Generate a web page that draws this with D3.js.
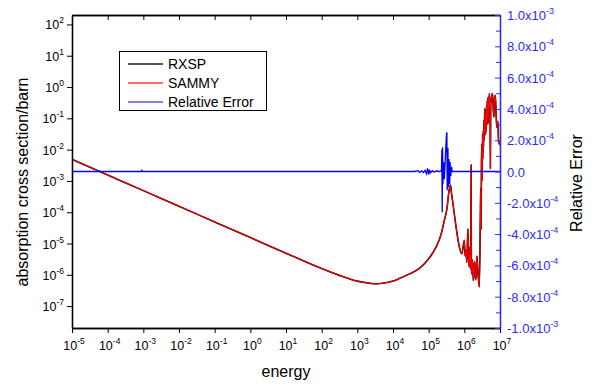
<!DOCTYPE html>
<html>
<head>
<meta charset="utf-8">
<script src="https://d3js.org/d3.v7.min.js"></script>
<style>
  body { margin: 0; background: #fff; }
  svg { font-family: "Liberation Sans", Arial, sans-serif; }
</style>
</head>
<body>
<div id="chart"></div>
<script>
// cross section (RXSP and SAMMY overlap)
const energy = [1e-5, 1e-4, 1e-3, 1e-2, 1e-1, 1, 10, 100, 316, 1e3, 2e3, 3.2e3, 5e3, 1e4, 1.5e4, 2.9e4, 5.5e4,
  1.05e5, 1.62e5, 2.24e5, 2.75e5, 3.3e5, 3.63e5, 4.07e5, 4.37e5, 4.79e5, 5.89e5, 7.24e5, 8.5e5,
  1.0e6, 1.05e6, 1.12e6, 1.17e6, 1.26e6, 1.32e6, 1.38e6, 1.45e6, 1.51e6, 1.55e6, 1.57e6, 1.62e6,
  1.7e6, 1.78e6, 1.86e6, 1.95e6, 2.04e6, 2.14e6, 2.24e6, 2.34e6, 2.45e6, 2.63e6, 2.82e6, 2.88e6,
  2.95e6, 3.02e6, 3.09e6, 3.16e6, 3.24e6, 3.31e6, 3.39e6, 3.47e6, 3.55e6, 3.63e6, 3.72e6, 3.8e6,
  3.9e6, 4.07e6, 4.17e6, 4.27e6, 4.37e6, 4.47e6, 4.57e6, 4.68e6, 4.79e6, 4.9e6, 5.01e6, 5.25e6,
  5.37e6, 5.5e6, 5.75e6, 5.9e6, 6.17e6, 6.46e6, 6.76e6, 7.08e6, 7.41e6, 7.76e6, 8.13e6, 8.7e6,
  9.12e6, 1e7];
const sigma = [4.9e-3, 1.55e-3, 4.9e-4, 1.55e-4, 4.9e-5, 1.55e-5, 4.9e-6, 1.58e-6, 9.6e-7, 6.3e-7, 5.5e-7, 5.2e-7, 5.4e-7, 6.3e-7, 7.6e-7, 1.07e-6, 1.6e-6,
  3.5e-6, 7.8e-6, 2.0e-5, 5.5e-5, 1.45e-4, 3.9e-4, 7.5e-4, 4e-4, 1.9e-4, 3.3e-5, 7.8e-6, 4.7e-6,
  1.26e-5, 4e-6, 6e-6, 2.5e-6, 2.95e-5, 3e-6, 1.78e-6, 8e-6, 1.5e-6, 3.2e-3, 2e-6, 1.07e-6,
  3e-6, 6.6e-7, 1.5e-6, 2.6e-6, 7e-7, 8.5e-7, 4e-6, 2.2e-6, 9e-7, 4.1e-7, 8.9e-5, 6e-4,
  3e-5, 3.5e-3, 1.5e-2, 1e-3, 3.2e-2, 5e-3, 4e-2, 1.2e-2, 0.09, 0.02, 0.2, 0.14,
  0.03, 5.2e-2, 0.25, 0.06, 0.37, 0.1, 0.45, 6.8e-2, 0.5, 0.2, 0.62, 0.3,
  2.5e-3, 0.3, 0.37, 0.55, 0.62, 0.2, 0.11, 0.45, 0.54, 0.15, 5.2e-2, 0.08,
  1.95e-2, 1.4e-2];

// relative error
const errEnergy = [1e-5, 8.7e-4, 9.1e-4, 9.5e-4, 4e4, 5e4, 5.6e4, 6.3e4, 7.1e4, 7.9e4, 8.7e4, 9.3e4, 1e5, 1.05e5,
  1.12e5, 1.26e5, 1.41e5, 1.58e5, 2e5, 2.29e5, 2.34e5, 2.4e5, 2.45e5, 2.51e5, 2.63e5, 2.75e5, 2.95e5,
  3.16e5, 3.24e5, 3.31e5, 3.47e5, 3.55e5, 3.72e5, 3.89e5, 3.98e5, 4.17e5, 4.37e5, 4.57e5, 1e7];
const relError = [0, 0, 8e-6, 0, 0, 5e-6, -5e-6, 4e-6, -6e-6, 8e-6, -1.5e-5, 2e-5, -2e-5, 1.2e-5,
  -8e-6, 5e-6, -5e-6, 3e-6, 0, 5e-6, 1.4e-4, -2.6e-4, 1.55e-4, -8e-5, 6e-5, -5e-5, 1e-4,
  2.4e-4, 2.5e-4, -1.2e-4, 1.5e-4, -1e-4, 8e-5, -8e-5, 6e-5, -3e-5, 3e-5, 0, 0];

const leftTicks = [1e-7, 1e-6, 1e-5, 1e-4, 1e-3, 1e-2, 1e-1, 1, 10, 100];
const leftExps = ["-7", "-6", "-5", "-4", "-3", "-2", "-1", "0", "1", "2"];
const bottomTicks = [1e-5, 1e-4, 1e-3, 1e-2, 1e-1, 1, 10, 100, 1e3, 1e4, 1e5, 1e6, 1e7];
const bottomExps = ["-5", "-4", "-3", "-2", "-1", "0", "1", "2", "3", "4", "5", "6", "7"];
const rightTicks = [1e-3, 8e-4, 6e-4, 4e-4, 2e-4, 0, -2e-4, -4e-4, -6e-4, -8e-4, -1e-3];
const rightMant = ["1.0", "8.0", "6.0", "4.0", "2.0", "0.0", "-2.0", "-4.0", "-6.0", "-8.0", "-1.0"];
const rightExps = ["-3", "-4", "-4", "-4", "-4", "", "-4", "-4", "-4", "-4", "-3"];

const width = 597, height = 387;
const pLeft = 72, pRight = 500, pTop = 15, pBottom = 328;
const blue = "#2b2bff";

const svg = d3.select("#chart").append("svg")
  .attr("width", width).attr("height", height);

const x = d3.scaleLog().domain([1e-5, 1e7]).range([pLeft, pRight]);
const y = d3.scaleLog().domain([2e-8, 200]).range([pBottom, pTop]);
const yR = d3.scaleLinear().domain([-1e-3, 1e-3]).range([pBottom, pTop]);

const isDecade = (v) => Math.abs(Math.log10(v) - Math.round(Math.log10(v))) < 1e-6;
const xMinor = x.ticks().filter(v => !isDecade(v));
const yMinor = y.ticks().filter(v => !isDecade(v));
const rMinor = d3.range(-9, 10, 2).map(v => v * 1e-4);

svg.append("defs").append("clipPath").attr("id", "clip")
  .append("rect").attr("x", pLeft).attr("y", pTop)
  .attr("width", pRight - pLeft).attr("height", pBottom - pTop);

const crossData = energy.map((e, i) => ({ e: e, s: sigma[i] }));
const errData = errEnergy.map((e, i) => ({ e: e, r: relError[i] }));

const plot = svg.append("g").attr("clip-path", "url(#clip)");

const sLine = d3.line().x(d => x(d.e)).y(d => y(d.s)).curve(d3.curveMonotoneX);
const rLine = d3.line().x(d => x(d.e)).y(d => yR(d.r));

plot.append("path").datum(crossData).attr("d", sLine)
  .attr("fill", "none").attr("stroke", "#000").attr("stroke-width", 1.6);
plot.append("path").datum(crossData).attr("d", sLine)
  .attr("fill", "none").attr("stroke", "#f00").attr("stroke-width", 1.1);
plot.append("path").datum(errData).attr("d", rLine)
  .attr("fill", "none").attr("stroke", "#00f").attr("stroke-width", 1.3);

// axes
const styleAxis = (g, color) => {
  g.select(".domain").attr("stroke", color).attr("stroke-width", 1.3);
  g.selectAll(".tick line").attr("stroke", color);
  g.selectAll(".tick text").remove();
};

svg.append("g").attr("transform", `translate(0,${pBottom})`)
  .call(d3.axisBottom(x).tickValues(bottomTicks).tickSize(5).tickSizeOuter(0))
  .call(g => styleAxis(g, "#000"));
svg.append("g").attr("transform", `translate(0,${pBottom})`)
  .call(d3.axisBottom(x).tickValues(xMinor).tickSize(3).tickSizeOuter(0))
  .call(g => styleAxis(g, "#000"));
svg.append("g").attr("transform", `translate(0,${pTop})`)
  .call(d3.axisTop(x).tickValues(bottomTicks).tickSize(-5).tickSizeOuter(0))
  .call(g => styleAxis(g, "#000"));
svg.append("g").attr("transform", `translate(0,${pTop})`)
  .call(d3.axisTop(x).tickValues(xMinor).tickSize(-2).tickSizeOuter(0))
  .call(g => styleAxis(g, "#999"))
  .call(g => g.select(".domain").attr("stroke", "#000"));

svg.append("g").attr("transform", `translate(${pLeft},0)`)
  .call(d3.axisLeft(y).tickValues(leftTicks).tickSize(5).tickSizeOuter(0))
  .call(g => styleAxis(g, "#000"));
svg.append("g").attr("transform", `translate(${pLeft},0)`)
  .call(d3.axisLeft(y).tickValues(yMinor).tickSize(3).tickSizeOuter(0))
  .call(g => styleAxis(g, "#000"));

svg.append("g").attr("transform", `translate(${pRight},0)`)
  .call(d3.axisRight(yR).tickValues(rightTicks).tickSize(-5).tickSizeOuter(0))
  .call(g => styleAxis(g, blue));
svg.append("g").attr("transform", `translate(${pRight},0)`)
  .call(d3.axisRight(yR).tickValues(rMinor).tickSize(-4).tickSizeOuter(0))
  .call(g => styleAxis(g, blue));

// tick labels with superscripts
const bl = svg.append("g").attr("font-size", 12.5).attr("fill", "#000");
bottomTicks.forEach((v, i) => {
  const t = bl.append("text").attr("x", x(v) + 2).attr("y", 350).attr("text-anchor", "middle");
  t.append("tspan").text("10");
  t.append("tspan").attr("dy", -6).attr("font-size", 8.5).text(bottomExps[i]);
});
leftTicks.forEach((v, i) => {
  const t = bl.append("text").attr("x", 64).attr("y", y(v) + 5).attr("text-anchor", "end");
  t.append("tspan").text("10");
  t.append("tspan").attr("dy", -6).attr("font-size", 8.5).text(leftExps[i]);
});
const rl = svg.append("g").attr("font-size", 13).attr("fill", blue);
rightTicks.forEach((v, i) => {
  const t = rl.append("text").attr("x", 507).attr("y", yR(v) + 5);
  t.append("tspan").text(rightExps[i] ? rightMant[i] + "x10" : rightMant[i]);
  if (rightExps[i]) t.append("tspan").attr("dy", -6).attr("font-size", 9).text(rightExps[i]);
});

// axis titles
svg.append("text").attr("x", 286).attr("y", 377).attr("text-anchor", "middle")
  .attr("font-size", 16).text("energy");
svg.append("text").attr("transform", "translate(28,182)rotate(-90)")
  .attr("text-anchor", "middle").attr("font-size", 16).text("absorption cross section/barn");
svg.append("text").attr("transform", "translate(582,183)rotate(-90)")
  .attr("text-anchor", "middle").attr("font-size", 16).text("Relative Error");

// legend
const legendItems = [
  { name: "RXSP", color: "#555", w: 2 },
  { name: "SAMMY", color: "#ff6a6a", w: 2 },
  { name: "Relative Error", color: "#00f", w: 1 }
];
const legend = svg.append("g");
legend.append("rect").attr("x", 119.5).attr("y", 51.5).attr("width", 147).attr("height", 59)
  .attr("fill", "#fff").attr("stroke", "#000").attr("stroke-width", 1);
legend.selectAll("g.item").data(legendItems).enter().append("g")
  .attr("transform", (d, i) => `translate(0,${64 + i * 19})`)
  .each(function (d) {
    const g = d3.select(this);
    g.append("line").attr("x1", 128).attr("x2", 163).attr("y1", 0).attr("y2", 0)
      .attr("stroke", d.color).attr("stroke-width", d.w);
    g.append("text").attr("x", 168).attr("y", 5).attr("font-size", 14).text(d.name);
  });
</script>
</body>
</html>
